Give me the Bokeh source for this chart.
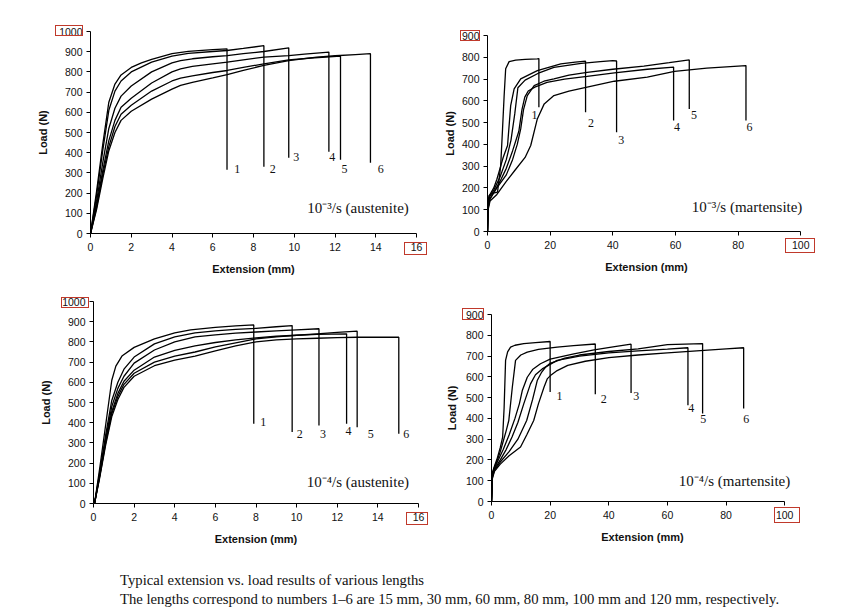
from bokeh.plotting import figure
from bokeh.layouts import column, row
from bokeh.models import Label, Div
from bokeh.core.properties import value
from bokeh.embed import file_html
from bokeh.resources import INLINE

# ---------------- data: 10^-3/s austenite ----------------
aus3_ext = [
    [0, 0.3, 0.6, 0.9, 1.2, 1.5, 2, 2.5, 3, 4, 4.8, 6, 6.7],
    [0, 0.3, 0.6, 0.9, 1.2, 1.5, 2, 3, 4, 4.8, 6, 6.7, 7.5, 8.51],
    [0, 0.3, 0.6, 0.9, 1.2, 1.5, 2, 3, 4, 4.42, 5, 6, 6.71, 7.5, 8.51, 9.73],
    [0, 0.3, 0.6, 0.9, 1.2, 1.5, 2, 3, 4, 4.42, 5, 6, 6.71, 7.5, 8.51, 9.73, 10.5, 11.7],
    [0, 0.3, 0.6, 0.9, 1.2, 1.5, 2, 3, 4, 4.42, 5, 6, 6.71, 7.5, 8.51, 9.73, 11, 12.27],
    [0, 0.3, 0.6, 0.9, 1.2, 1.5, 2, 3, 4, 4.42, 5, 6, 6.71, 7.5, 8.51, 9.73, 11, 12, 13, 13.74],
]
aus3_load = [
    [0, 210, 440, 650, 740, 785, 822, 845, 862, 890, 902, 910, 914],
    [0, 190, 410, 610, 705, 755, 800, 848, 878, 892, 901, 906, 916, 930],
    [0, 160, 350, 520, 620, 680, 730, 800, 845, 856, 865, 875, 881, 890, 901, 919],
    [0, 140, 310, 460, 560, 625, 670, 745, 800, 815, 827, 840, 848, 860, 873, 881, 888, 898],
    [0, 130, 290, 430, 530, 590, 635, 705, 755, 769, 780, 797, 807, 822, 840, 860, 870, 878],
    [0, 120, 270, 410, 500, 560, 605, 665, 715, 733, 748, 770, 786, 808, 832, 856, 872, 880, 886, 890],
]
aus3_break = [315, 330, 375, 405, 365, 350]
aus3_lab_x = [7.2, 8.95, 10.1, 11.87, 12.47, 14.24]
aus3_lab_y = [317, 317, 378, 378, 317, 317]

# ---------------- data: 10^-3/s martensite ----------------
mar3_ext = [
    [0, 0.2, 0.5, 1.5, 3.2, 4.2, 4.8, 5.3, 5.8, 6.9, 9, 12, 15.9, 16.4],
    [0, 0.2, 0.6, 2, 3, 4, 5, 6.4, 7.4, 8.5, 10.6, 15.9, 23.4, 28, 31.3],
    [0, 0.2, 0.7, 2, 4, 6, 7.5, 8.7, 9.7, 12, 16.7, 21.2, 29.9, 36, 40, 41.2],
    [0, 0.2, 0.8, 2, 4, 6, 8, 10, 11, 11.9, 13, 15.1, 19, 24.6, 31.8, 40.5, 51, 59.4],
    [0, 0.2, 0.8, 3, 6, 8, 9.5, 10.6, 11.5, 12.7, 14.9, 18, 21.2, 26, 31.8, 40, 49.9, 58, 64.4],
    [0, 0.2, 0.8, 3, 6, 8.7, 12, 13.8, 15.9, 18.1, 21.2, 26, 31.8, 40.5, 51, 59.7, 70, 82.5],
]
mar3_load = [
    [0, 140, 165, 175, 181, 300, 471, 620, 747, 780, 787, 790, 793, 794],
    [0, 130, 165, 200, 240, 290, 340, 395, 578, 655, 701, 739, 770, 778, 782],
    [0, 120, 160, 190, 250, 330, 420, 540, 660, 695, 730, 754, 772, 780, 785, 783],
    [0, 110, 150, 180, 230, 290, 370, 460, 560, 617, 645, 663, 685, 700, 712, 728, 745, 755],
    [0, 110, 150, 200, 260, 330, 400, 471, 560, 624, 670, 690, 701, 718, 731, 745, 759, 775, 788],
    [0, 100, 140, 170, 230, 280, 340, 395, 517, 586, 624, 645, 663, 690, 709, 735, 750, 762],
]
mar3_break = [571, 548, 456, 510, 563, 510]
mar3_lab_x = [15, 33, 42.7, 60.5, 65.9, 83.6]
mar3_lab_y = [537, 497, 422, 482, 537, 482]

# ---------------- data: 10^-4/s austenite ----------------
aus4_ext = [
    [0.05, 0.3, 0.6, 0.9, 1.1, 1.4, 2, 3, 4, 4.78, 6, 7, 7.89],
    [0.05, 0.3, 0.6, 0.9, 1.2, 1.5, 2, 3, 4, 5, 6, 7, 8, 9, 9.78],
    [0.05, 0.3, 0.6, 0.9, 1.2, 1.5, 2, 3, 4, 5, 6, 7, 8, 9, 10, 11.1],
    [0.05, 0.3, 0.6, 0.9, 1.2, 1.5, 2, 3, 4, 5, 6, 7, 8, 9, 10, 11, 12.46],
    [0.05, 0.3, 0.6, 0.9, 1.2, 1.5, 2, 3, 4, 5, 6, 7, 8, 9, 10, 11, 12, 12.98],
    [0.05, 0.3, 0.6, 0.9, 1.2, 1.5, 2, 3, 4, 5, 6, 7, 8, 9, 10, 11, 12, 13, 15.03],
]
aus4_load = [
    [0, 170, 390, 610, 680, 730, 773, 815, 845, 860, 872, 879, 884],
    [0, 150, 340, 510, 600, 665, 725, 790, 825, 845, 855, 862, 867, 875, 881],
    [0, 140, 320, 480, 570, 630, 695, 760, 800, 825, 835, 843, 849, 855, 860, 865],
    [0, 135, 310, 455, 545, 605, 660, 725, 758, 780, 797, 810, 820, 828, 833, 837, 840],
    [0, 130, 300, 445, 530, 590, 645, 700, 730, 750, 775, 795, 815, 825, 833, 840, 847, 853],
    [0, 125, 290, 430, 515, 575, 630, 682, 710, 730, 755, 780, 800, 810, 815, 818, 821, 823, 823],
]
aus4_break = [395, 354, 386, 395, 378, 345]
aus4_lab_x = [8.36, 10.15, 11.3, 12.55, 13.65, 15.4]
aus4_lab_y = [405, 345, 345, 360, 345, 345]

# ---------------- data: 10^-4/s martensite ----------------
mar4_ext = [
    [0, 0.3, 1, 2, 3, 3.8, 4.3, 4.8, 5.5, 6.5, 8, 11, 15, 20],
    [0, 0.3, 1, 2, 3, 4, 5, 5.9, 7.1, 8.2, 10, 12.2, 16, 22.4, 28, 35.4],
    [0, 0.3, 1, 2, 4, 6, 8, 9.5, 10.5, 12.2, 14, 16.7, 20, 28.1, 35, 42, 47.6],
    [0, 0.3, 1, 3, 5, 7, 9, 11, 13.3, 15, 17.3, 20, 22.4, 30, 40, 50, 60, 67],
    [0, 0.3, 1, 3, 6, 9, 12, 14, 15.6, 17, 18.4, 20, 25, 30, 40, 50, 60, 72],
    [0, 0.3, 1, 3, 6, 9.9, 12, 14.4, 16, 17.9, 19, 20.1, 22.4, 26, 32, 40, 50, 60, 70, 80, 86],
]
mar4_load = [
    [0, 140, 170, 210, 260, 310, 450, 679, 720, 743, 752, 760, 765, 770],
    [0, 130, 165, 200, 240, 290, 340, 390, 550, 679, 705, 719, 732, 743, 750, 758],
    [0, 125, 160, 190, 250, 320, 400, 470, 534, 598, 635, 663, 685, 711, 730, 745, 757],
    [0, 120, 155, 200, 250, 310, 380, 470, 566, 610, 638, 660, 679, 700, 715, 725, 733, 740],
    [0, 115, 150, 190, 240, 300, 390, 490, 582, 620, 646, 665, 690, 705, 722, 735, 755, 760],
    [0, 110, 145, 180, 220, 262, 320, 390, 470, 550, 590, 606, 630, 655, 675, 692, 705, 715, 725, 735, 740],
]
mar4_break = [527, 516, 522, 463, 423, 447]
mar4_lab_x = [23.2, 38.3, 49.4, 68.1, 72.2, 86.9]
mar4_lab_y = [506, 495, 506, 452, 399, 399]

curve_names = ["1", "2", "3", "4", "5", "6"]

SANS = "Liberation Sans"
SERIF = "Liberation Serif"
RED = "#c0392b"
INK = "#111111"


def panel(width, height, borders, margin_top, ylab_standoff, xmax, xview, xstep, ymax,
          ext, load, brk, lab_x, lab_y, note, note_x, note_y, note_align):
    bl, br, bt, bb = borders
    p = figure(width=width, height=height, x_range=(0, xview), y_range=(0, ymax),
               output_backend="svg", toolbar_location=None,
               min_border_left=bl, min_border_right=br,
               min_border_top=bt, min_border_bottom=bb,
               margin=(margin_top, 0, 0, 0))
    p.outline_line_color = None
    p.xgrid.visible = False
    p.ygrid.visible = False
    p.xaxis.bounds = (0, xmax)
    p.xaxis.ticker = list(range(0, xmax + 1, xstep))
    p.yaxis.ticker = list(range(0, ymax + 1, 100))
    for ax in (p.xaxis, p.yaxis):
        ax.axis_line_color = "black"
        ax.axis_line_width = 1
        ax.major_tick_line_color = "black"
        ax.major_tick_in = 0
        ax.major_tick_out = 4
        ax.minor_tick_line_color = None
        ax.major_label_text_font = SANS
        ax.major_label_text_font_size = "10.5px"
        ax.major_label_text_color = INK
        ax.axis_label_text_font = SANS
        ax.axis_label_text_font_style = "bold"
        ax.axis_label_text_font_size = "11px"
        ax.axis_label_text_color = INK
    p.xaxis.major_label_standoff = 5
    p.yaxis.major_label_standoff = 4
    p.xaxis.axis_label = "Extension (mm)"
    p.yaxis.axis_label = "Load (N)"
    p.xaxis.axis_label_standoff = 9
    p.yaxis.axis_label_standoff = ylab_standoff

    for xs, ys, b in zip(ext, load, brk):
        p.line(xs + [xs[-1]], ys + [b], line_color="black", line_width=1.3)

    p.text(x=lab_x, y=lab_y, text=curve_names, text_font=value(SERIF),
           text_font_size="12px", text_align="center", text_baseline="middle",
           text_color=INK)

    p.add_layout(Label(x=note_x, y=note_y, text=note, text_font=SERIF,
                       text_font_size="15px", text_align=note_align,
                       text_baseline="middle", text_color=INK))
    return p


# frames: TL 90..416 x 31..233 ; TR 486..800 x 35..231
#         BL 93..418 x 301..503 ; BR 491..784 x 314..501
p1 = panel(440, 283, (90, 24, 31, 50), 0, 7, 16, 16, 2, 1000, aus3_ext, aus3_load,
           aus3_break, aus3_lab_x, aus3_lab_y, "10\u207b\u00b3/s (austenite)",
           10.64, 127, "left")
p2 = panel(400, 277, (46, 35, 31, 50), 4, 3, 100, 101.5, 20, 900, mar3_ext, mar3_load,
           mar3_break, mar3_lab_x, mar3_lab_y, "10\u207b\u00b3/s (martensite)",
           100.5, 112, "right")
p3 = panel(440, 270, (93, 22, 18, 50), 0, 7, 16, 16, 2, 1000, aus4_ext, aus4_load,
           aus4_break, aus4_lab_x, aus4_lab_y, "10\u207b\u2074/s (austenite)",
           10.5, 107, "left")
p4 = panel(400, 255, (51, 47, 18, 50), 13, 5, 100, 103, 20, 900, mar4_ext, mar4_load,
           mar4_break, mar4_lab_x, mar4_lab_y, "10\u207b\u2074/s (martensite)",
           101.9, 101, "right")

caption = Div(
    text="Typical extension vs. load results of various lengths<br>"
         "The lengths correspond to numbers 1\u20136 are 15 mm, 30 mm, 60 mm, 80 mm, "
         "100 mm and 120 mm, respectively.",
    width=830, height=60,
    styles={"font-family": "'Liberation Serif', serif", "font-size": "14.7px",
            "line-height": "19px", "padding-left": "115px", "padding-top": "13px",
            "color": INK, "white-space": "nowrap"})

# red highlight frames around the axis end values (left, top, width, height in px)
box_left = [55, 404, 460, 785, 61, 406, 462, 774]
box_top = [25, 242, 30, 238, 297, 512, 308, 507]
box_w = [28, 23, 20, 30, 28, 22, 22, 26]
box_h = [11, 13, 11, 15, 11, 13, 12, 16]
boxes = []
for bx, by, bw, bh in zip(box_left, box_top, box_w, box_h):
    boxes.append(Div(text="", width=bw, height=bh, margin=0,
                     styles={"position": "absolute", "left": f"{bx}px",
                             "top": f"{by}px", "width": f"{bw}px",
                             "height": f"{bh}px", "box-sizing": "border-box",
                             "border": f"1px solid {RED}", "z-index": "10",
                             "margin": "0px", "pointer-events": "none"}))

layout = column(row(p1, p2), row(p3, p4), caption, *boxes)

with open("out.html", "w") as f:
    f.write(file_html(layout, INLINE))
